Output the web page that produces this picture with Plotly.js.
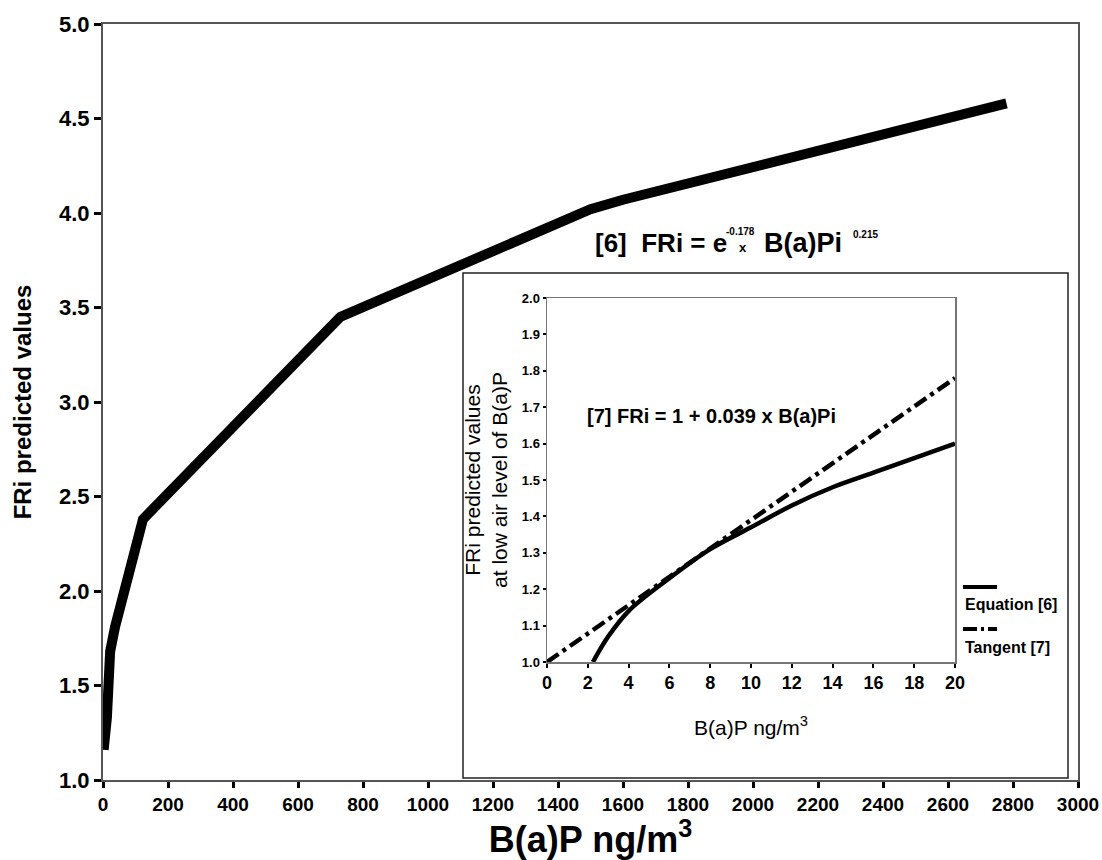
<!DOCTYPE html>
<html>
<head>
<meta charset="utf-8">
<script src="https://cdn.plot.ly/plotly-3.0.1.min.js"></script>
<style>html,body{margin:0;padding:0;background:#fff;}#chart{width:1102px;height:860px;}</style>
</head>
<body>
<div id="chart"></div>
<script>
// Main chart: predicted FRi vs B(a)P
const mainX = [2, 12, 22, 37, 123, 730, 1500, 1600, 2780];
const mainY = [1.16, 1.33, 1.68, 1.81, 2.38, 3.45, 4.02, 4.07, 4.58];

// Inset: Equation [6] at low air levels
const eqX = [2.25, 3, 4, 6, 8, 10, 12, 14, 16, 18, 20];
const eqY = [1.00, 1.07, 1.14, 1.23, 1.31, 1.37, 1.43, 1.48, 1.52, 1.56, 1.60];

// Inset: Tangent [7]
const tanX = [0, 20];
const tanY = [1.00, 1.78];

const mainXTicks = [0,200,400,600,800,1000,1200,1400,1600,1800,2000,2200,2400,2600,2800,3000];
const mainYTicks = [1.0,1.5,2.0,2.5,3.0,3.5,4.0,4.5,5.0];
const insetXTicks = [0,2,4,6,8,10,12,14,16,18,20];
const insetYTicks = [1.0,1.1,1.2,1.3,1.4,1.5,1.6,1.7,1.8,1.9,2.0];

const W = 1102, H = 860;
const L = 103, R = 1078, T = 24, B = 780;
const px = x => (x - L) / (R - L);
const py = y => (B - y) / (B - T);

const SANS = "Liberation Sans, Arial, sans-serif";

const traces = [
  {x: mainX, y: mainY, type: 'scatter', mode: 'lines', name: 'FRi',
   line: {color: '#000', width: 10}, xaxis: 'x', yaxis: 'y', showlegend: false},
  {x: eqX, y: eqY, type: 'scatter', mode: 'lines', name: 'Equation [6]',
   line: {color: '#000', width: 4.5, shape: 'spline'}, xaxis: 'x2', yaxis: 'y2', showlegend: false},
  {x: tanX, y: tanY, type: 'scatter', mode: 'lines', name: 'Tangent [7]',
   line: {color: '#000', width: 4.5, dash: '14px,5px,4px,5px'}, xaxis: 'x2', yaxis: 'y2', showlegend: false}
];

const layout = {
  width: W, height: H,
  margin: {l: L, r: W - R, t: T, b: H - B, pad: 0},
  paper_bgcolor: '#fff', plot_bgcolor: '#fff',
  showlegend: false,
  xaxis: {
    range: [0, 3000], tickvals: mainXTicks, ticktext: mainXTicks.map(String),
    showgrid: false, zeroline: false, showline: true, linecolor: '#555', linewidth: 2, mirror: true,
    ticks: 'outside', ticklen: 6, tickwidth: 3, tickcolor: '#000', ticklabeloverflow: 'allow',
    tickfont: {family: SANS, size: 19, color: '#000', weight: 'bold'},
    title: {text: 'B(a)P ng/m<sup>3</sup>', standoff: 3,
            font: {family: SANS, size: 36, color: '#000', weight: 'bold'}}
  },
  yaxis: {
    range: [1, 5], tickvals: mainYTicks, ticktext: mainYTicks.map(v => v.toFixed(1)),
    showgrid: false, zeroline: false, showline: true, linecolor: '#555', linewidth: 2, mirror: true,
    ticks: 'outside', ticklen: 7, tickwidth: 3, tickcolor: '#000', ticklabeloverflow: 'allow',
    tickfont: {family: SANS, size: 22, color: '#000', weight: 'bold'},
    title: {text: 'FRi predicted values', standoff: 21,
            font: {family: SANS, size: 24, color: '#000', weight: 'bold'}}
  },
  xaxis2: {
    anchor: 'y2', domain: [px(547), px(955)], range: [0, 20],
    tickvals: insetXTicks, ticktext: insetXTicks.map(String),
    showgrid: false, zeroline: false, showline: true, linecolor: '#777', linewidth: 1.5, mirror: true,
    ticks: 'outside', ticklen: 4, tickwidth: 2, tickcolor: '#000', ticklabeloverflow: 'allow',
    tickfont: {family: SANS, size: 18, color: '#000', weight: 'bold'},
    title: {text: 'B(a)P ng/m<sup>3</sup>', standoff: 28,
            font: {family: SANS, size: 21, color: '#000'}}
  },
  yaxis2: {
    anchor: 'x2', domain: [py(662), py(298)], range: [1, 2],
    tickvals: insetYTicks, ticktext: insetYTicks.map(v => v.toFixed(1)),
    showgrid: false, zeroline: false, showline: true, linecolor: '#777', linewidth: 1.5, mirror: true,
    ticks: 'outside', ticklen: 3, tickwidth: 2, tickcolor: '#000', ticklabeloverflow: 'allow',
    tickfont: {family: SANS, size: 13, color: '#000', weight: 'bold'},
    title: {text: 'FRi predicted values<br>at low air level of B(a)P', standoff: 8,
            font: {family: SANS, size: 21, color: '#000'}}
  },
  shapes: [
    // inset frame
    {type: 'rect', xref: 'paper', yref: 'paper', x0: px(463), x1: px(1068), y0: py(778), y1: py(273),
     line: {color: '#222', width: 1.5}, fillcolor: 'rgba(0,0,0,0)', layer: 'below'},
    // legend samples
    {type: 'line', xref: 'paper', yref: 'paper', x0: px(963), x1: px(997), y0: py(587), y1: py(587),
     line: {color: '#000', width: 4}},
    {type: 'line', xref: 'paper', yref: 'paper', x0: px(963), x1: px(997), y0: py(629), y1: py(629),
     line: {color: '#000', width: 4, dash: '14px,4px,3px,4px'}}
  ],
  annotations: [
    // equation [6]
    {xref: 'paper', yref: 'paper', x: px(593), y: py(243), xanchor: 'left', yanchor: 'middle', showarrow: false,
     text: '[6]  FRi = e', font: {family: SANS, size: 26, color: '#000', weight: 'bold'}},
    {xref: 'paper', yref: 'paper', x: px(724), y: py(231), xanchor: 'left', yanchor: 'middle', showarrow: false,
     text: '-0.178', font: {family: SANS, size: 10, color: '#000', weight: 'bold'}},
    {xref: 'paper', yref: 'paper', x: px(737), y: py(247), xanchor: 'left', yanchor: 'middle', showarrow: false,
     text: 'x', font: {family: SANS, size: 13, color: '#000', weight: 'bold'}},
    {xref: 'paper', yref: 'paper', x: px(762), y: py(243), xanchor: 'left', yanchor: 'middle', showarrow: false,
     text: 'B(a)Pi', font: {family: SANS, size: 27, color: '#000', weight: 'bold'}},
    {xref: 'paper', yref: 'paper', x: px(851), y: py(234), xanchor: 'left', yanchor: 'middle', showarrow: false,
     text: '0.215', font: {family: SANS, size: 10, color: '#000', weight: 'bold'}},
    // equation [7]
    {xref: 'paper', yref: 'paper', x: px(585), y: py(416), xanchor: 'left', yanchor: 'middle', showarrow: false,
     text: '[7] FRi = 1 + 0.039 x B(a)Pi', font: {family: SANS, size: 20, color: '#000', weight: 'bold'}},
    // legend texts
    {xref: 'paper', yref: 'paper', x: px(963), y: py(604), xanchor: 'left', yanchor: 'middle', showarrow: false,
     text: 'Equation [6]', font: {family: SANS, size: 16, color: '#000', weight: 'bold'}},
    {xref: 'paper', yref: 'paper', x: px(963), y: py(647), xanchor: 'left', yanchor: 'middle', showarrow: false,
     text: 'Tangent [7]', font: {family: SANS, size: 16, color: '#000', weight: 'bold'}}
  ]
};

Plotly.newPlot('chart', traces, layout, {displayModeBar: false, staticPlot: true});
</script>
</body>
</html>
